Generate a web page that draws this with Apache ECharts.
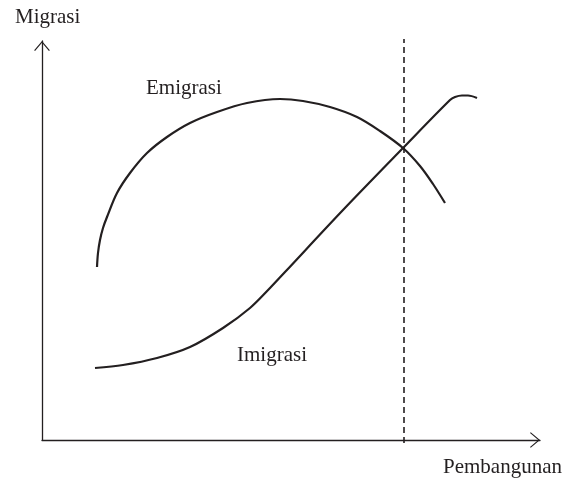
<!DOCTYPE html>
<html>
<head>
<meta charset="utf-8">
<script src="https://cdn.jsdelivr.net/npm/echarts@6/dist/echarts.min.js"></script>
<style>
html, body { margin: 0; padding: 0; background: #fff; }
#main { width: 571px; height: 479px; }
</style>
</head>
<body>
<div id="main"></div>
<script>
// pembangunan (x) vs migrasi (y)
var emigrasi = [
  [55, 173], [56, 187], [58, 200], [61, 212], [65, 223], [75, 247], [88, 267], [105, 287], [125, 303],
  [148, 317], [175, 328], [205, 337], [238, 341], [261, 339], [288, 333], [315, 323],
  [338, 309], [361, 292], [378, 274], [391, 256], [403, 237]
];
var imigrasi = [
  [53, 72], [81, 75], [115, 82], [148, 93], [181, 112], [208, 132], [228, 152],
  [243, 168], [301, 230], [361, 292], [408, 340], [413, 343], [420, 344.5], [426, 344.5], [435, 342]
];
var garisBatas = [[362, -3], [362, 401]];

var ink = "#231f20";
var serif = "Liberation Serif";
var arrowPath = "path://M0,10 L8.5,0 L17,10 L16,10.8 L8.5,1.9 L1,10.8 Z";

var myChart = echarts.init(document.getElementById("main"));
var option = {
  animation: false,
  grid: { left: 42, right: 31, top: 41, bottom: 39 },
  xAxis: {
    type: "value",
    min: 0,
    max: 498,
    axisLine: {
      show: true,
      symbol: ["none", arrowPath],
      symbolSize: [17, 10],
      symbolOffset: [0, -5],
      lineStyle: { color: ink, width: 1.3 }
    },
    axisTick: { show: false },
    axisLabel: { show: false },
    splitLine: { show: false }
  },
  yAxis: {
    type: "value",
    min: 0,
    max: 399,
    axisLine: {
      show: true,
      symbol: ["none", arrowPath],
      symbolSize: [17, 10],
      symbolOffset: [0, -5],
      lineStyle: { color: ink, width: 1.3 }
    },
    axisTick: { show: false },
    axisLabel: { show: false },
    splitLine: { show: false }
  },
  series: [
    {
      name: "Emigrasi",
      type: "line",
      data: emigrasi,
      smooth: 0.33,
      showSymbol: false,
      lineStyle: { color: ink, width: 2.2 }
    },
    {
      name: "Imigrasi",
      type: "line",
      data: imigrasi,
      smooth: 0.33,
      showSymbol: false,
      lineStyle: { color: ink, width: 2.2 }
    },
    {
      type: "line",
      data: garisBatas,
      clip: false,
      showSymbol: false,
      lineStyle: { color: ink, width: 1.6, type: [6, 4] }
    }
  ],
  graphic: [
    { type: "text", left: 15, top: 7, style: { text: "Migrasi", font: "21px " + serif, fill: ink } },
    { type: "text", left: 146, top: 78, style: { text: "Emigrasi", font: "21px " + serif, fill: ink } },
    { type: "text", left: 237, top: 345, style: { text: "Imigrasi", font: "21px " + serif, fill: ink } },
    { type: "text", left: 443, top: 457, style: { text: "Pembangunan", font: "21px " + serif, fill: ink } }
  ]
};
myChart.setOption(option);
</script>
</body>
</html>
